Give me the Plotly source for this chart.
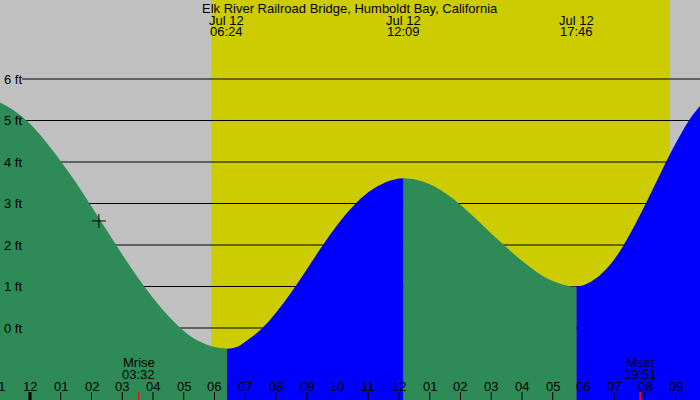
import plotly.graph_objects as go

# ---- data (hours since midnight Jul 12, heights in ft) ----
tide_hours = [-1.2, -1.0, -0.5, 0, 0.5, 1, 1.5, 2, 2.5, 3, 3.5, 4, 4.5, 5, 5.5, 6, 6.4,
              6.75, 7, 7.5, 8, 8.5, 9, 9.5, 10, 10.5, 11, 11.5, 12, 12.15,
              12.5, 13, 13.5, 14, 14.5, 15, 15.5, 16, 16.5, 17, 17.5, 17.77,
              18, 18.5, 19, 19.5, 20, 20.5, 21, 21.5, 21.8, 22.0]
tide_ft = [5.49, 5.44, 5.23, 4.92, 4.50, 4.02, 3.50, 2.93, 2.35, 1.77, 1.22, 0.72, 0.29, -0.07, -0.32, -0.46, -0.50,
           -0.45, -0.33, -0.04, 0.37, 0.86, 1.41, 1.97, 2.49, 2.93, 3.27, 3.49, 3.60, 3.61,
           3.585, 3.465, 3.256, 2.972, 2.63, 2.28, 1.94, 1.62, 1.34, 1.13, 1.015, 1.00,
           1.03, 1.25, 1.65, 2.25, 2.96, 3.72, 4.45, 5.08, 5.36, 5.55]

extreme_hours = [6.4, 12.15, 17.77]
extreme_dates = ["Jul 12", "Jul 12", "Jul 12"]
extreme_times = ["06:24", "12:09", "17:46"]

sunrise_h = 5.90
sunset_h = 20.81
moon_hours = [3.533, 19.85]
moon_names = ["Mrise", "Mset"]
moon_times = ["03:32", "19:51"]

now_h = 2.24
now_ft = 2.58

level_ft = [0, 1, 2, 3, 4, 5, 6]
hour_ticks = list(range(-1, 22))
hour_labels = ["11", "12", "01", "02", "03", "04", "05", "06", "07", "08", "09", "10", "11",
               "12", "01", "02", "03", "04", "05", "06", "07", "08", "09"]

title = "Elk River Railroad Bridge, Humboldt Bay, California"

# ---- style ----
GRAY = "#c0c0c0"
YELLOW = "#cccc00"
GREEN = "#2e8b57"
BLUE = "#0000ff"
FONT = "Liberation Sans, Arial, sans-serif"
X_RANGE = [-0.976, 21.79]
Y_RANGE = [-1.735, 7.904]
BASE = -3.0
W, H = 700, 400


def xpaper(h):
    return (h - X_RANGE[0]) / (X_RANGE[1] - X_RANGE[0])


def ypix(py):
    return 1 - py / H


fig = go.Figure()

bounds = [tide_hours[0]] + extreme_hours + [tide_hours[-1]]
colors = [GREEN, BLUE, GREEN, BLUE]
for i in range(len(bounds) - 1):
    a, b = bounds[i], bounds[i + 1]
    xs = [h for h in tide_hours if a <= h <= b]
    ys = [v for h, v in zip(tide_hours, tide_ft) if a <= h <= b]
    fig.add_trace(go.Scatter(x=[xs[0], xs[-1]], y=[BASE, BASE], mode="lines",
                             line=dict(width=0), hoverinfo="skip", showlegend=False))
    fig.add_trace(go.Scatter(x=xs, y=ys, mode="lines", line=dict(width=0, shape="spline"),
                             fill="tonexty", fillcolor=colors[i], hoverinfo="skip",
                             showlegend=False))

fig.add_trace(go.Scatter(x=[now_h], y=[now_ft], mode="markers",
                         marker=dict(symbol="cross-thin", size=10,
                                     line=dict(color="black", width=1)),
                         hoverinfo="skip", showlegend=False))

shapes = [dict(type="rect", xref="x", yref="paper", x0=sunrise_h, x1=sunset_h, y0=0, y1=1,
               fillcolor=YELLOW, line=dict(width=0), layer="below")]
for lv in level_ft:
    shapes.append(dict(type="line", xref="paper", yref="y", x0=22 / W, x1=1, y0=lv, y1=lv,
                       line=dict(color="black", width=1), layer="below"))

tick_len = 8 / H
for h in hour_ticks:
    w = 3 if h == 0 else 1
    shapes.append(dict(type="line", xref="x", yref="paper", x0=h, x1=h, y0=0, y1=tick_len,
                       line=dict(color="black", width=w), layer="above"))
for h, w in zip(moon_hours, [1, 2]):
    shapes.append(dict(type="line", xref="x", yref="paper", x0=h, x1=h, y0=0, y1=tick_len,
                       line=dict(color="red", width=w), layer="above"))

txt = dict(size=13, color="black", family=FONT)
annotations = [dict(text=title, xref="paper", yref="paper", x=0.5, y=ypix(8),
                    xanchor="center", yanchor="middle", showarrow=False, font=txt)]
for h, d, t in zip(extreme_hours, extreme_dates, extreme_times):
    annotations.append(dict(text=d, xref="paper", yref="paper", x=xpaper(h), y=ypix(20),
                            xanchor="center", yanchor="middle", showarrow=False, font=txt))
    annotations.append(dict(text=t, xref="paper", yref="paper", x=xpaper(h), y=ypix(32),
                            xanchor="center", yanchor="middle", showarrow=False, font=txt))
for lv in level_ft:
    annotations.append(dict(text=f"{lv} ft", xref="paper", yref="y", x=2 / W, y=lv,
                            xanchor="left", yanchor="middle", showarrow=False, font=txt))
for h, lab in zip(hour_ticks, hour_labels):
    annotations.append(dict(text=lab, xref="paper", yref="paper", x=xpaper(h), y=ypix(386),
                            xanchor="center", yanchor="middle", showarrow=False, font=txt))
for h, n, t in zip(moon_hours, moon_names, moon_times):
    annotations.append(dict(text=n, xref="paper", yref="paper", x=xpaper(h), y=ypix(362),
                            xanchor="center", yanchor="middle", showarrow=False, font=txt))
    annotations.append(dict(text=t, xref="paper", yref="paper", x=xpaper(h), y=ypix(374),
                            xanchor="center", yanchor="middle", showarrow=False, font=txt))

fig.update_layout(
    width=W, height=H, margin=dict(l=0, r=0, t=0, b=0),
    paper_bgcolor=GRAY, plot_bgcolor=GRAY,
    xaxis=dict(range=X_RANGE, visible=False, fixedrange=True),
    yaxis=dict(range=Y_RANGE, visible=False, fixedrange=True),
    shapes=shapes, annotations=annotations, showlegend=False,
)

fig.write_html("out.html")
